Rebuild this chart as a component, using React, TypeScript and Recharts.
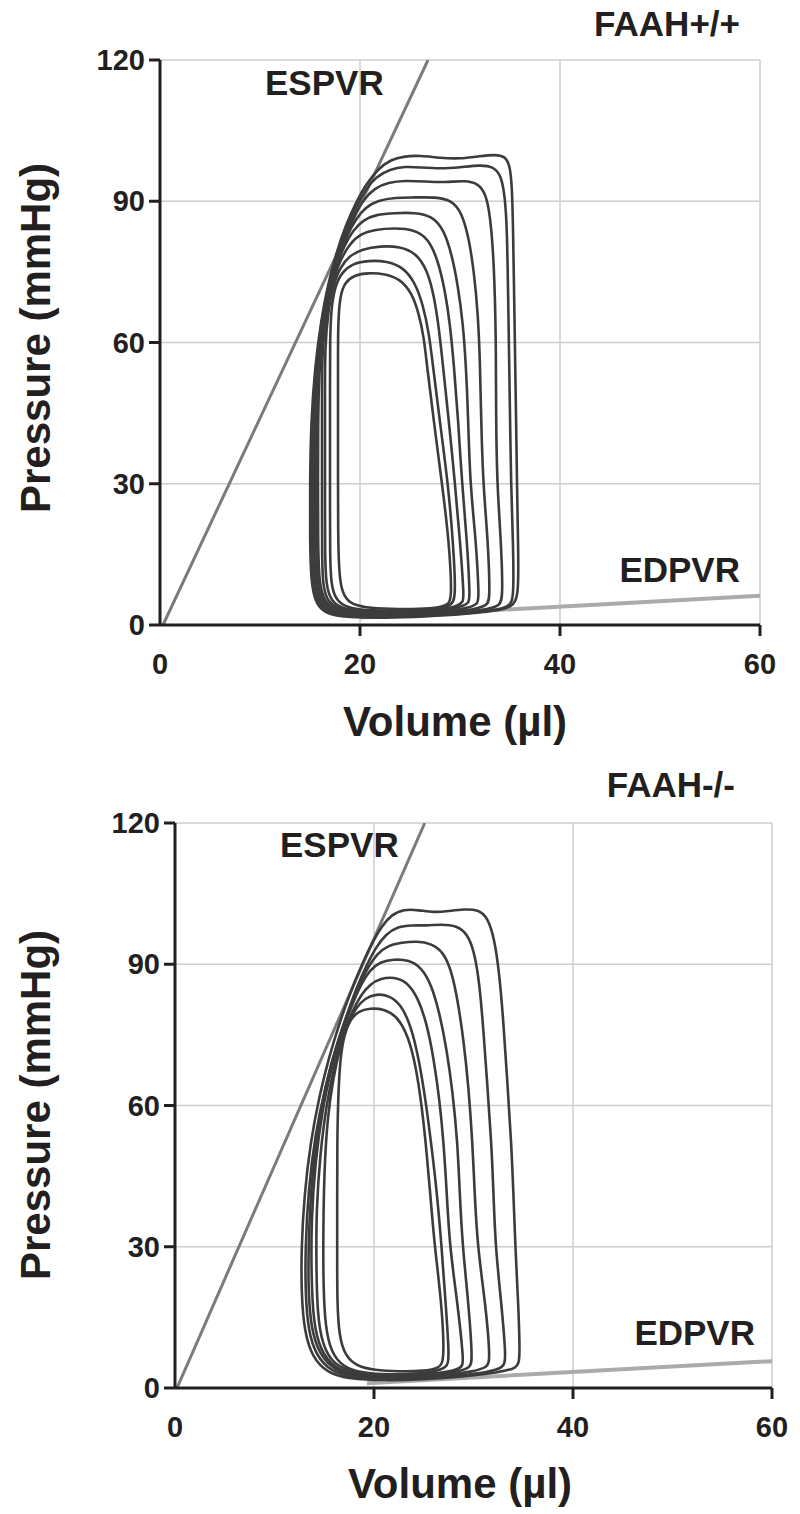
import React from 'react';
import { LineChart, Line, XAxis, YAxis, CartesianGrid } from 'recharts';

type Pt = [number, number];

// ---------- shared ticks ----------
const xTicks = [0, 20, 40, 60];
const yTicks = [0, 30, 60, 90, 120];

// ---------- FAAH+/+ (top) ----------
const topTitle = 'FAAH+/+';
const topEspvr: Pt[] = [[0.3, 0], [26.8, 120]];
const topEdpvr: Pt[] = [[20, 1.6], [60, 6.2]];

const topLoop1: Pt[] = [[35.9, 6], [35.8, 18], [35.7, 30], [35.6, 45], [35.5, 58], [35.4, 72], [35.3, 85], [35.2, 93], [35.0, 97.6], [34.5, 99.6], [33.5, 99.9], [32.0, 99.6], [30.0, 99.0], [28.0, 99.2], [26.0, 99.7], [24.5, 99.6], [23.0, 98.8], [21.8, 96.8], [20.6, 93.6], [19.6, 89.8], [18.6, 85.0], [17.7, 79.5], [16.8, 72.5], [16.1, 64.5], [15.5, 55], [15.1, 43], [15.0, 30], [15.0, 18], [15.1, 9], [15.6, 4.2], [16.8, 2.2], [18.8, 1.6], [22.5, 1.5], [26.5, 1.8], [30.5, 2.3], [33.5, 3.0], [35.2, 3.8]];
const topLoop2: Pt[] = [[35.4, 6], [35.3, 18], [35.1, 30], [35.0, 45], [34.9, 58], [34.8, 72], [34.7, 84], [34.5, 91], [34.1, 95.6], [33.3, 97.4], [32.0, 97.7], [30.0, 97.2], [28.0, 96.9], [26.0, 97.2], [24.5, 97.4], [23.0, 96.8], [21.6, 95.2], [20.6, 92.6], [19.6, 88.8], [18.6, 84.0], [17.6, 78.0], [16.7, 71.0], [16.0, 62.5], [15.5, 53], [15.2, 42], [15.2, 30], [15.2, 18], [15.3, 9], [15.8, 4.4], [17.0, 2.4], [19.0, 1.8], [22.5, 1.7], [26.5, 1.9], [30.5, 2.4], [33.5, 3.1], [35.0, 3.9]];
const topLoop3: Pt[] = [[34.3, 6], [34.1, 18], [33.7, 30], [33.6, 45], [33.6, 58], [33.5, 70], [33.3, 80], [33.0, 87], [32.6, 91.5], [31.8, 93.8], [30.5, 94.4], [28.5, 94.0], [26.5, 94.2], [24.5, 94.4], [22.8, 94.0], [21.5, 92.8], [20.4, 90.5], [19.5, 87.2], [18.6, 83.0], [17.7, 77.5], [16.9, 71.0], [16.2, 63.0], [15.7, 54], [15.4, 43], [15.4, 30], [15.4, 18], [15.5, 9], [16.0, 4.6], [17.2, 2.6], [19.2, 2.0], [22.5, 1.9], [26.5, 2.1], [30.0, 2.6], [32.8, 3.3], [34.0, 4.1]];
const topLoop4: Pt[] = [[33.0, 6], [32.8, 18], [32.3, 30], [32.1, 45], [32.0, 56], [31.8, 66], [31.4, 75], [30.9, 82], [30.2, 87.5], [29.2, 90.2], [27.5, 90.9], [25.5, 90.8], [23.5, 90.8], [21.8, 90.2], [20.6, 88.8], [19.6, 86.3], [18.7, 82.8], [17.8, 78.0], [17.0, 72.0], [16.3, 64.5], [15.9, 56], [15.6, 45], [15.6, 30], [15.6, 18], [15.7, 9], [16.2, 4.8], [17.4, 2.8], [19.4, 2.2], [22.5, 2.1], [26.0, 2.3], [29.5, 2.8], [31.8, 3.5], [32.8, 4.3]];
const topLoop5: Pt[] = [[31.9, 6], [31.6, 18], [31.0, 30], [30.8, 45], [30.6, 55], [30.3, 64], [29.8, 72], [29.2, 78.5], [28.4, 84], [27.2, 86.9], [25.5, 87.6], [23.5, 87.5], [21.6, 87.2], [20.3, 86.0], [19.3, 83.8], [18.4, 80.5], [17.5, 75.5], [16.8, 69.5], [16.2, 62], [15.9, 53], [15.8, 42], [15.8, 30], [15.8, 18], [15.9, 9], [16.4, 5.0], [17.6, 3.0], [19.6, 2.4], [22.5, 2.3], [26.0, 2.5], [29.0, 3.0], [31.0, 3.7], [31.8, 4.5]];
const topLoop6: Pt[] = [[31.0, 6], [30.7, 18], [30.2, 30], [29.8, 44], [29.4, 55], [29.0, 64], [28.5, 71], [27.8, 77.5], [26.8, 82.2], [25.4, 84.0], [23.5, 84.3], [21.5, 84.0], [20.0, 83.0], [19.0, 81.0], [18.0, 77.5], [17.2, 72.5], [16.6, 66], [16.2, 58], [16.2, 48], [16.2, 36], [16.2, 24], [16.2, 14], [16.3, 8], [16.8, 4.8], [18.0, 3.2], [20.0, 2.6], [23.0, 2.5], [26.0, 2.7], [28.5, 3.2], [30.2, 3.9], [30.9, 4.7]];
const topLoop7: Pt[] = [[30.4, 6], [30.0, 18], [29.5, 30], [28.9, 43], [28.3, 55], [27.9, 63], [27.4, 70], [26.7, 75.5], [25.6, 79.0], [24.0, 80.4], [22.0, 80.5], [20.2, 79.8], [19.0, 78.5], [18.0, 76.0], [17.3, 72.0], [16.8, 66.5], [16.5, 59], [16.5, 50], [16.5, 38], [16.5, 26], [16.5, 15], [16.6, 8.5], [17.1, 5.0], [18.3, 3.4], [20.3, 2.8], [23.0, 2.8], [26.0, 3.0], [28.5, 3.4], [29.8, 4.1], [30.3, 4.9]];
const topLoop8: Pt[] = [[29.6, 6], [29.3, 18], [28.8, 30], [28.0, 43], [27.3, 55], [26.9, 62], [26.3, 68], [25.5, 72.8], [24.3, 76.0], [22.7, 77.3], [20.8, 77.4], [19.3, 76.8], [18.2, 75.0], [17.5, 72.0], [17.1, 67.0], [17.0, 60], [17.0, 50], [17.0, 38], [17.0, 26], [17.0, 15], [17.1, 8.5], [17.6, 5.2], [18.8, 3.6], [20.8, 3.1], [23.5, 3.0], [26.0, 3.1], [28.2, 3.5], [29.2, 4.3]];
const topLoop9: Pt[] = [[29.2, 6], [28.9, 18], [28.2, 30], [27.4, 43], [26.7, 55], [26.4, 61], [25.9, 66], [25.2, 70.5], [24.0, 73.5], [22.5, 74.6], [20.8, 74.8], [19.4, 74.3], [18.5, 72.8], [18.0, 70.0], [17.8, 64], [17.8, 55], [17.8, 44], [17.8, 32], [17.8, 20], [17.9, 11], [18.2, 6.8], [19.0, 4.5], [20.5, 3.7], [23.0, 3.4], [26.0, 3.4], [28.0, 3.7], [28.9, 4.4]];

// ---------- FAAH-/- (bottom) ----------
const bottomTitle = 'FAAH-/-';
const bottomEspvr: Pt[] = [[0.2, 0], [25.1, 120]];
const bottomEdpvr: Pt[] = [[19.3, 1.0], [60, 5.7]];

const bottomLoop1: Pt[] = [[34.7, 6], [34.5, 18], [34.2, 30], [34.0, 42], [33.8, 52], [33.4, 65], [33.0, 78], [32.6, 88], [32.1, 95.5], [31.4, 100], [30.5, 101.6], [29.0, 101.7], [27.5, 101.3], [26.0, 101.0], [24.5, 101.5], [23.0, 101.7], [21.8, 100.6], [20.8, 98.2], [19.8, 94.5], [18.8, 90.0], [17.7, 84.5], [16.6, 78.0], [15.5, 70.5], [14.5, 62], [13.6, 52], [13.0, 41], [12.7, 30], [12.7, 20], [13.0, 12], [13.8, 6.5], [15.3, 3.2], [17.5, 1.9], [21.0, 1.6], [25.0, 1.8], [29.0, 2.4], [32.5, 3.3], [34.4, 4.2]];
const bottomLoop2: Pt[] = [[33.3, 6], [32.8, 18], [32.2, 30], [32.0, 42], [31.8, 52], [31.4, 64], [31.0, 76], [30.6, 86], [30.1, 92.5], [29.4, 96.5], [28.3, 98.2], [26.8, 98.5], [25.3, 98.2], [23.8, 98.3], [22.4, 98.0], [21.2, 96.4], [20.2, 93.6], [19.3, 90.0], [18.3, 85.3], [17.3, 79.5], [16.2, 72.5], [15.1, 64], [14.1, 54], [13.4, 42], [13.1, 30], [13.1, 20], [13.4, 12], [14.2, 6.8], [15.7, 3.5], [17.8, 2.2], [21.0, 1.8], [25.0, 2.0], [28.5, 2.6], [31.5, 3.4], [33.0, 4.3]];
const bottomLoop3: Pt[] = [[31.7, 6], [31.2, 18], [30.4, 30], [30.1, 42], [29.9, 52], [29.5, 64], [29.0, 74], [28.4, 82.5], [27.8, 88.5], [27.0, 92.5], [25.8, 94.4], [24.3, 94.9], [22.8, 94.6], [21.4, 94.0], [20.3, 92.2], [19.4, 89.4], [18.5, 85.5], [17.5, 80.5], [16.4, 74.0], [15.3, 66], [14.4, 56], [13.7, 44], [13.4, 30], [13.4, 20], [13.7, 12.5], [14.5, 7.2], [16.0, 3.8], [18.0, 2.5], [21.0, 2.0], [24.5, 2.2], [27.5, 2.8], [30.0, 3.5], [31.4, 4.4]];
const bottomLoop4: Pt[] = [[29.9, 6], [29.5, 18], [28.9, 30], [28.6, 42], [28.4, 52], [27.9, 63], [27.3, 72], [26.6, 79.5], [25.8, 85.5], [24.8, 89.3], [23.5, 90.9], [22.0, 91.1], [20.6, 90.5], [19.6, 88.8], [18.7, 85.8], [17.8, 81.5], [16.8, 75.5], [15.7, 68], [14.8, 59], [14.1, 48], [13.7, 36], [13.7, 24], [13.9, 14], [14.6, 8], [16.0, 4.2], [18.0, 2.8], [21.0, 2.3], [24.0, 2.5], [26.8, 3.0], [28.8, 3.6], [29.7, 4.5]];
const bottomLoop5: Pt[] = [[29.0, 6], [28.4, 18], [27.6, 30], [27.3, 42], [27.0, 52], [26.6, 61], [26.0, 70], [25.3, 77.5], [24.4, 83], [23.3, 86.3], [22.0, 87.3], [20.7, 87.0], [19.6, 85.8], [18.7, 83.5], [17.8, 80.0], [16.9, 75.0], [16.0, 68.5], [15.2, 60], [14.6, 50], [14.2, 38], [14.2, 26], [14.3, 16], [14.8, 9], [16.0, 4.8], [18.0, 3.2], [21.0, 2.6], [24.0, 2.7], [26.8, 3.2], [28.4, 3.9], [28.9, 4.7]];
const bottomLoop6: Pt[] = [[27.6, 6], [27.2, 18], [26.8, 30], [26.3, 42], [25.8, 51], [25.2, 61], [24.5, 70], [23.7, 77], [22.7, 81.5], [21.5, 83.4], [20.2, 83.7], [19.1, 82.8], [18.2, 80.8], [17.4, 77.5], [16.6, 72.5], [15.9, 66], [15.3, 57], [15.0, 46], [14.9, 34], [14.9, 22], [15.1, 13], [15.7, 7.5], [16.9, 4.4], [18.8, 3.2], [21.5, 2.8], [24.0, 3.0], [26.2, 3.5], [27.3, 4.4]];
const bottomLoop7: Pt[] = [[27.1, 6], [26.8, 18], [26.1, 30], [25.7, 40], [25.3, 50], [24.8, 60], [24.2, 68.5], [23.4, 75], [22.3, 79], [21.0, 80.5], [19.6, 80.7], [18.4, 80.0], [17.6, 78.2], [17.0, 75.0], [16.6, 70], [16.4, 62], [16.3, 52], [16.3, 40], [16.3, 28], [16.3, 18], [16.5, 11], [17.1, 6.8], [18.3, 4.6], [20.0, 3.8], [22.5, 3.5], [25.0, 3.6], [26.6, 4.2]];

const topLoops = [topLoop1, topLoop2, topLoop3, topLoop4, topLoop5, topLoop6, topLoop7, topLoop8, topLoop9];
const bottomLoops = [bottomLoop1, bottomLoop2, bottomLoop3, bottomLoop4, bottomLoop5, bottomLoop6, bottomLoop7];

const FONT = '"Liberation Sans", Arial, Helvetica, sans-serif';
const INK = '#231f20';

const toRows = (pts: Pt[]) => pts.map(([v, p]) => ({ v, p }));

const XTick = (props: any) => {
  const { x, y, payload } = props;
  return (
    <g>
      {payload.value !== 0 && (
        <line x1={x} y1={y} x2={x} y2={y + 11} stroke={INK} strokeWidth={3} />
      )}
      <text x={x} y={y + 49} textAnchor="middle" fontSize={29} fontWeight="bold" fontFamily={FONT} fill={INK}>
        {payload.value}
      </text>
    </g>
  );
};

const YTick = (props: any) => {
  const { x, y, payload } = props;
  return (
    <g>
      <line x1={x - 11} y1={y} x2={x} y2={y} stroke={INK} strokeWidth={3} />
      <text x={x - 15} y={y + 10} textAnchor="end" fontSize={29} fontWeight="bold" fontFamily={FONT} fill={INK}>
        {payload.value}
      </text>
    </g>
  );
};

type PanelProps = {
  top: number;
  yAxisWidth: number;
  rightMargin: number;
  loops: Pt[][];
  espvr: Pt[];
  edpvr: Pt[];
};

const Panel = ({ top, yAxisWidth, rightMargin, loops, espvr, edpvr }: PanelProps) => (
  <div style={{ position: 'absolute', left: 0, top, width: 800, height: 700 }}>
    <LineChart width={800} height={700} margin={{ top: 60, right: rightMargin, bottom: 35, left: 0 }}>
      <CartesianGrid stroke="#cdcdcd" strokeWidth={1.5} />
      <XAxis
        type="number"
        dataKey="v"
        domain={[0, 60]}
        ticks={xTicks}
        interval={0}
        allowDataOverflow
        height={40}
        axisLine={{ stroke: INK, strokeWidth: 3 }}
        tickLine={false}
        tickSize={0}
        tickMargin={0}
        tick={(p: any) => <XTick {...p} />}
      />
      <YAxis
        type="number"
        domain={[0, 120]}
        ticks={yTicks}
        interval={0}
        allowDataOverflow
        width={yAxisWidth}
        axisLine={{ stroke: INK, strokeWidth: 3 }}
        tickLine={false}
        tickSize={0}
        tickMargin={0}
        tick={(p: any) => <YTick {...p} />}
      />
      <Line data={toRows(edpvr)} dataKey="p" type="linear" stroke="#ababab" strokeWidth={4} dot={false} activeDot={false} isAnimationActive={false} />
      <Line data={toRows(espvr)} dataKey="p" type="linear" stroke="#7b7b7b" strokeWidth={3} dot={false} activeDot={false} isAnimationActive={false} />
      {loops.map((loop, i) => (
        <Line
          key={i}
          data={toRows(loop)}
          dataKey="p"
          type="basisClosed"
          stroke="#3c3c3c"
          strokeWidth={2.6}
          dot={false}
          activeDot={false}
          isAnimationActive={false}
        />
      ))}
    </LineChart>
  </div>
);

const txt = { fontFamily: FONT, fontWeight: 'bold' as const, fill: INK };

export default function App() {
  return (
    <div style={{ position: 'absolute', left: 0, top: 0, width: 800, height: 1514, background: '#fff' }}>
      <Panel top={0} yAxisWidth={160} rightMargin={40} loops={topLoops} espvr={topEspvr} edpvr={topEdpvr} />
      <Panel top={763} yAxisWidth={175} rightMargin={28} loops={bottomLoops} espvr={bottomEspvr} edpvr={bottomEdpvr} />
      <svg width={800} height={1514} style={{ position: 'absolute', left: 0, top: 0, pointerEvents: 'none' }}>
        <text x={740} y={36} textAnchor="end" fontSize={35} {...txt}>{topTitle}</text>
        <text x={265} y={95} fontSize={35} {...txt}>ESPVR</text>
        <text x={740} y={582} textAnchor="end" fontSize={35} {...txt}>EDPVR</text>
        <text transform="translate(50,338) rotate(-90)" textAnchor="middle" fontSize={42} {...txt}>Pressure (mmHg)</text>
        <text x={455} y={736} textAnchor="middle" fontSize={42} {...txt}>Volume (µl)</text>

        <text x={735} y={797} textAnchor="end" fontSize={35} {...txt}>{bottomTitle}</text>
        <text x={280} y={857} fontSize={35} {...txt}>ESPVR</text>
        <text x={755} y={1345} textAnchor="end" fontSize={35} {...txt}>EDPVR</text>
        <text transform="translate(50,1105) rotate(-90)" textAnchor="middle" fontSize={42} {...txt}>Pressure (mmHg)</text>
        <text x={460} y={1498} textAnchor="middle" fontSize={42} {...txt}>Volume (µl)</text>
      </svg>
    </div>
  );
}
